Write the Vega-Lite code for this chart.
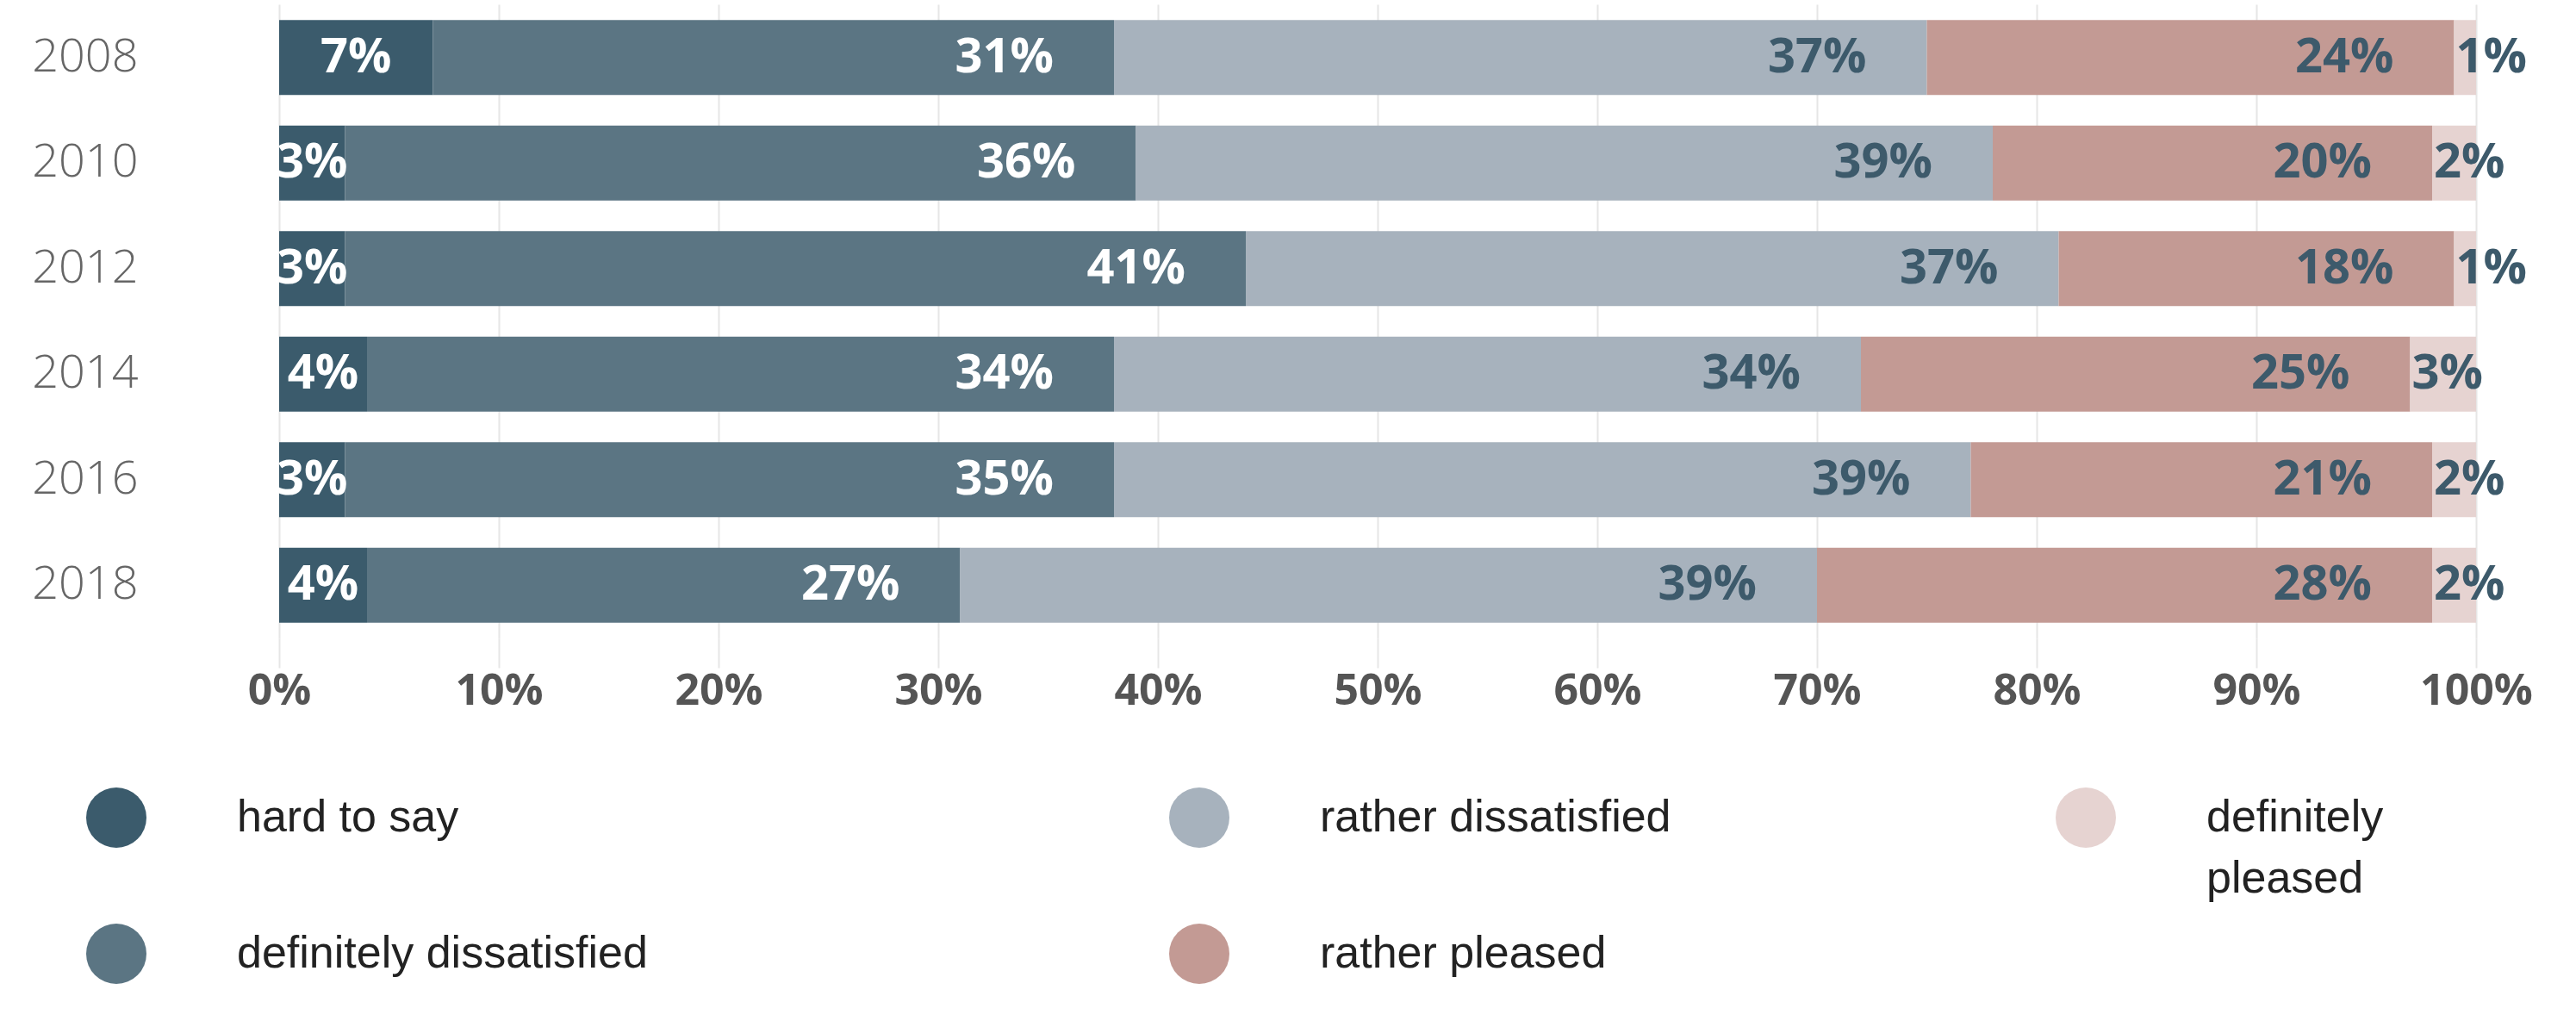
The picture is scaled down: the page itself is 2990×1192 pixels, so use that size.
{
  "$schema": "https://vega.github.io/schema/vega-lite/v6.json",
  "autosize": {"type": "none"},
  "padding": {"left": 324, "top": 5, "right": 116, "bottom": 451},
  "width": 2550,
  "height": 736,
  "background": "white",
  "config": {"view": {"stroke": null}, "font": "Open Sans"},
  "data": {"values": [
    {"year": "2008", "cat": "hard to say", "v": 7},
    {"year": "2008", "cat": "definitely dissatisfied", "v": 31},
    {"year": "2008", "cat": "rather dissatisfied", "v": 37},
    {"year": "2008", "cat": "rather pleased", "v": 24},
    {"year": "2008", "cat": "definitely pleased", "v": 1},
    {"year": "2010", "cat": "hard to say", "v": 3},
    {"year": "2010", "cat": "definitely dissatisfied", "v": 36},
    {"year": "2010", "cat": "rather dissatisfied", "v": 39},
    {"year": "2010", "cat": "rather pleased", "v": 20},
    {"year": "2010", "cat": "definitely pleased", "v": 2},
    {"year": "2012", "cat": "hard to say", "v": 3},
    {"year": "2012", "cat": "definitely dissatisfied", "v": 41},
    {"year": "2012", "cat": "rather dissatisfied", "v": 37},
    {"year": "2012", "cat": "rather pleased", "v": 18},
    {"year": "2012", "cat": "definitely pleased", "v": 1},
    {"year": "2014", "cat": "hard to say", "v": 4},
    {"year": "2014", "cat": "definitely dissatisfied", "v": 34},
    {"year": "2014", "cat": "rather dissatisfied", "v": 34},
    {"year": "2014", "cat": "rather pleased", "v": 25},
    {"year": "2014", "cat": "definitely pleased", "v": 3},
    {"year": "2016", "cat": "hard to say", "v": 3},
    {"year": "2016", "cat": "definitely dissatisfied", "v": 35},
    {"year": "2016", "cat": "rather dissatisfied", "v": 39},
    {"year": "2016", "cat": "rather pleased", "v": 21},
    {"year": "2016", "cat": "definitely pleased", "v": 2},
    {"year": "2018", "cat": "hard to say", "v": 4},
    {"year": "2018", "cat": "definitely dissatisfied", "v": 27},
    {"year": "2018", "cat": "rather dissatisfied", "v": 39},
    {"year": "2018", "cat": "rather pleased", "v": 28},
    {"year": "2018", "cat": "definitely pleased", "v": 2}
  ]},
  "transform": [
    {"calculate": "indexof(['hard to say','definitely dissatisfied','rather dissatisfied','rather pleased','definitely pleased'], datum.cat)", "as": "k"},
    {"stack": "v", "groupby": ["year"], "sort": [{"field": "k", "order": "ascending"}], "as": ["x0", "x1"]},
    {"calculate": "(datum.x0 + datum.x1) / 2", "as": "mid"},
    {"calculate": "datum.v + '%'", "as": "lbl"}
  ],
  "encoding": {
    "y": {
      "field": "year", "type": "nominal", "sort": "ascending",
      "scale": {"paddingInner": 0.29, "paddingOuter": 0.15},
      "axis": {"title": null, "domain": false, "ticks": false, "labelPadding": 164, "labelFont": "Open Sans", "labelFontWeight": 300, "labelFontSize": 54, "labelColor": "#666666"}
    }
  },
  "layer": [
    {
      "mark": {"type": "bar"},
      "encoding": {
        "x": {"field": "x0", "type": "quantitative", "scale": {"domain": [0, 100], "nice": false},
          "axis": {"title": null, "values": [0,10,20,30,40,50,60,70,80,90,100], "labelExpr": "datum.value + '%'", "labelFlush": false, "labelOverlap": false, "grid": true, "gridColor": "#e6e6e6", "gridWidth": 2, "domain": false, "tickSize": 34, "tickColor": "#e6e6e6", "tickWidth": 2, "labelPadding": 2, "labelFont": "Open Sans", "labelFontWeight": "bold", "labelFontSize": 50, "labelColor": "#555555"}},
        "x2": {"field": "x1"},
        "color": {
          "field": "cat", "type": "nominal",
          "scale": {
            "domain": ["hard to say", "definitely dissatisfied", "rather dissatisfied", "rather pleased", "definitely pleased"],
            "range": ["#3b5b6c", "#5b7583", "#a7b2bd", "#c39a94", "#e6d3d1"]
          },
          "legend": {
            "title": null, "orient": "none", "legendX": -224, "legendY": 909, "columns": 3,
            "symbolType": "circle", "symbolSize": 4900, "symbolStrokeWidth": 0, "symbolOpacity": 1,
            "labelFont": "Liberation Sans", "labelFontSize": 52, "labelColor": "#222222", "labelOffset": 105,
            "columnPadding": 446, "rowPadding": 26, "padding": 0, "labelLimit": 1500,
            "labelExpr": "datum.label == 'definitely pleased' ? ['definitely', 'pleased'] : (datum.label == 'definitely dissatisfied' ? ['definitely dissatisfied\u00a0\u00a0\u00a0\u00a0\u00a0\u00a0\u00a0\u00a0\u00a0\u00a0\u00a0\u200b', ''] : [datum.label, ''])",
            "encode": {"labels": {"update": {"lineHeight": {"value": 71}}}}
          }
        }
      }
    },
    {
      "transform": [{"filter": "datum.cat == 'hard to say'"}],
      "mark": {"type": "text", "align": "center", "baseline": "middle", "font": "Open Sans", "fontWeight": "bold", "fontSize": 56, "color": "#ffffff"},
      "encoding": {"x": {"field": "mid", "type": "quantitative"}, "text": {"field": "lbl"}}
    },
    {
      "transform": [{"filter": "datum.cat == 'definitely dissatisfied'"}],
      "mark": {"type": "text", "align": "right", "baseline": "middle", "dx": -70, "font": "Open Sans", "fontWeight": "bold", "fontSize": 56, "color": "#ffffff"},
      "encoding": {"x": {"field": "x1", "type": "quantitative"}, "text": {"field": "lbl"}}
    },
    {
      "transform": [{"filter": "datum.cat == 'rather dissatisfied' || datum.cat == 'rather pleased'"}],
      "mark": {"type": "text", "align": "right", "baseline": "middle", "dx": -70, "font": "Open Sans", "fontWeight": "bold", "fontSize": 56, "color": "#3d5a6b"},
      "encoding": {"x": {"field": "x1", "type": "quantitative"}, "text": {"field": "lbl"}}
    },
    {
      "transform": [{"filter": "datum.cat == 'definitely pleased'"}],
      "mark": {"type": "text", "align": "left", "baseline": "middle", "dx": 2, "font": "Open Sans", "fontWeight": "bold", "fontSize": 56, "color": "#3d5a6b"},
      "encoding": {"x": {"field": "x0", "type": "quantitative"}, "text": {"field": "lbl"}}
    }
  ]
}
